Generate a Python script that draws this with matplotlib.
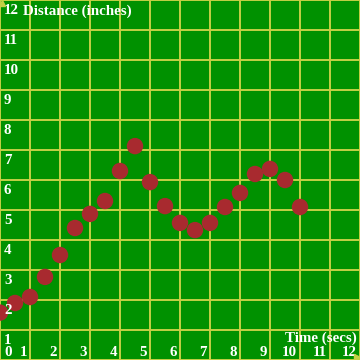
import matplotlib
matplotlib.use("Agg")
import matplotlib.pyplot as plt

time_secs = [0, 0.5, 1.0, 1.5, 2.0, 2.5, 3.0, 3.5, 4.0, 4.5, 5.0, 5.5, 6.0, 6.5,
             7.0, 7.5, 8.0, 8.5, 9.0, 9.5, 10.0]
distance_in = [1.58, 1.9, 2.1, 2.77, 3.5, 4.4, 4.87, 5.3, 6.3, 7.13, 5.93, 5.13,
               4.57, 4.33, 4.57, 5.1, 5.57, 6.2, 6.37, 6.0, 5.1]
x_ticks = list(range(0, 13))
y_ticks = list(range(1, 13))
x_title = "Time (secs)"
y_title = "Distance (inches)"

BG = "#009100"
GRID = "#C4D046"
PT = "#A82A2F"

fig = plt.figure(figsize=(3.6, 3.6), dpi=100)
ax = fig.add_axes([0, 0, 1, 1])
ax.set_facecolor(BG)
ax.set_xlim(0, 12)
ax.set_ylim(0, 12)
for v in range(0, 13):
    ax.axvline(v, color=GRID, lw=1.4, zorder=1)
    ax.axhline(v, color=GRID, lw=1.4, zorder=1)
ax.set_xticks([])
ax.set_yticks([])
for s in ax.spines.values():
    s.set_visible(False)

ax.scatter(time_secs, distance_in, s=140, color=PT, edgecolors='none', zorder=3)

font = dict(family="Liberation Serif", weight="bold", color="white", fontsize=10.8, zorder=4)
px = 1 / 30.0
for k in y_ticks:
    ax.text(4 * px, k - 14 * px, str(k), ha='left', va='baseline', **font)
for k in x_ticks:
    if k == 0:
        ax.text(4 * px, 4 * px, "0", ha='left', va='baseline', **font)
    else:
        ax.text(k - 3 * px, 4 * px, str(k), ha='right', va='baseline', **font)
ax.text(23 * px, 12 - 15 * px, y_title, ha='left', va='baseline', **font)
ax.text(12 - 3 * px, 18 * px, x_title, ha='right', va='baseline', **font)

# small axis arrow heads at corners
ax.plot([2 * px], [12 - 3 * px], marker='^', ms=4, color=GRID, clip_on=False, zorder=5)
ax.plot([12 - 3 * px], [3 * px], marker='>', ms=4, color=GRID, clip_on=False, zorder=5)

fig.savefig("out.png", dpi=100)
